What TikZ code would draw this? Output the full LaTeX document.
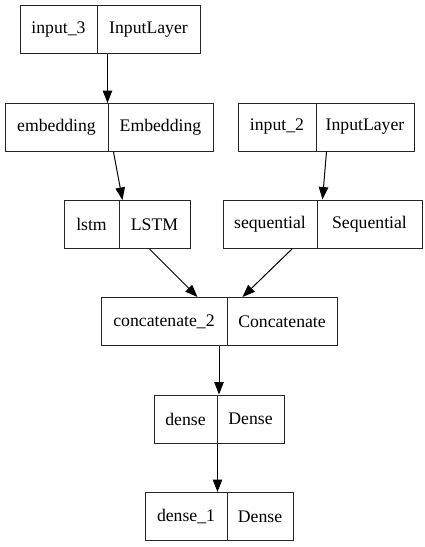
\documentclass[tikz,border=0pt]{standalone}
\usepackage{fontspec}
\setmainfont{Liberation Serif}
\newfontfamily\timesfont{Liberation Serif}
\usetikzlibrary{arrows.meta}
\tikzset{
  box/.style={draw=black!85, line width=1pt, minimum height=48pt, inner sep=0pt, fill=white},
  lbl/.style={inner sep=0pt, font=\timesfont\fontsize{17.7pt}{20pt}\selectfont},
  arr/.style={draw=black, line width=1pt, -{Triangle[length=12.5pt,width=9.5pt]}, shorten >=0pt}
}
% \layerbox{name}{x1}{x2}{xdiv}{ycenter}{left}{right}
\newcommand{\layerbox}[7]{%
  \node[box, minimum width={#3pt-#2pt}] (#1) at ({(#2+#3)/2}, #5) {};
  \draw[line width=1pt, black!85] (#4, #5-24) -- (#4, #5+24);
  \node[lbl] (#1-l) at ({(#2+#4)/2}, #5) {#6};
  \node[lbl] (#1-r) at ({(#4+#3)/2}, #5) {#7};
}
\begin{document}
\begin{tikzpicture}[x=1pt, y=-1pt]
\useasboundingbox (0,0) rectangle (424,547);
\layerbox{input3}{20}{200}{97}{29.5}{input\_3}{InputLayer}
\layerbox{emb}{5}{213}{108}{127.5}{embedding}{Embedding}
\layerbox{input2}{238}{414}{316}{127}{input\_2}{InputLayer}
\layerbox{lstm}{64}{190}{119}{224.5}{lstm}{LSTM}
\layerbox{seq}{223}{422}{317}{224}{sequential}{Sequential}
\layerbox{concat}{101}{337}{227}{321.5}{concatenate\_2}{Concatenate}
\layerbox{dense}{154}{284}{217}{419}{dense}{Dense}
\layerbox{dense1}{145}{293}{227}{516.5}{dense\_1}{Dense}

\draw[arr] ([xshift=88pt]input3.south west) -- ([xshift=103pt]emb.north west);
\draw[arr] ([xshift=109pt]emb.south west) -- ([xshift=59pt]lstm.north west);
\draw[arr] ([xshift=89pt]input2.south west) -- ([xshift=100pt]seq.north west);
\draw[arr] ([xshift=86pt]lstm.south west) -- ([xshift=97pt]concat.north west);
\draw[arr] ([xshift=70pt]seq.south west) -- ([xshift=142pt]concat.north west);
\draw[arr] (concat.south) -- (dense.north);
\draw[arr] ([xshift=64pt]dense.south west) -- ([xshift=73pt]dense1.north west);
\end{tikzpicture}
\end{document}
